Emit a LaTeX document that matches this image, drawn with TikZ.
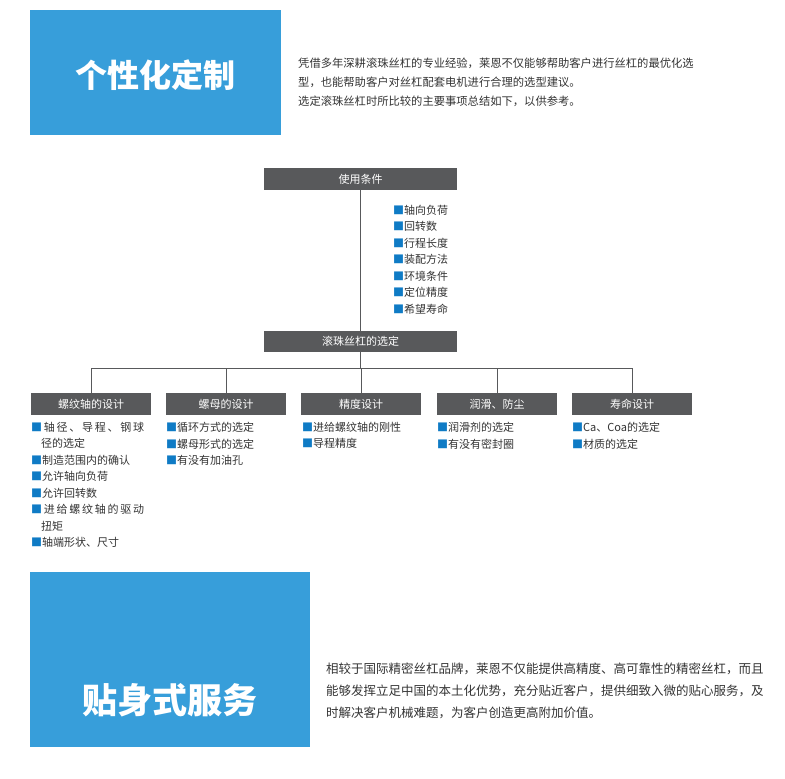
\documentclass[tikz,border=0pt]{standalone}
\usepackage{fontspec}
\setmainfont{Noto Sans CJK SC}
\usetikzlibrary{positioning}

\definecolor{cornblue}{HTML}{379EDA}
\definecolor{headgray}{HTML}{58595B}
\definecolor{bulblue}{HTML}{0F7BC5}
\definecolor{txtgray}{HTML}{333333}
\newcommand\bul{{\color{bulblue}■}}

\begin{document}
\begin{tikzpicture}[
  x=1pt, y=-1pt,
  banner/.style={
    fill=cornblue,
    inner sep=0
  },
  bannertext/.style={
    text=white,
    font=\fontsize{32}{36}\selectfont\bfseries,
    inner sep=0
  },
  para/.style={
    anchor=north west,
    inner sep=0,
    align=left,
    text=txtgray
  },
  stage/.style={
    fill=headgray,
    text=white,
    font=\fontsize{11}{13}\selectfont,
    minimum height=22pt,
    inner sep=0
  },
  items/.style={
    anchor=north west,
    inner sep=0,
    align=left,
    text=txtgray,
    font=\fontsize{11}{16.5}\selectfont
  },
  link/.style={
    draw=headgray,
    line width=0.8pt
  }
]
\useasboundingbox (0,0) rectangle (785,779);

% top banner
\node[banner, minimum width=251pt, minimum height=125pt] (custom) at (155.5,72.5) {};
\node[bannertext] (customtitle) at (155.5,75) {个性化定制};
\node[para, font=\fontsize{11.3}{19}\selectfont] (intro) at (298,57.8)
  {凭借多年深耕滚珠丝杠的专业经验，莱恩不仅能够帮助客户进行丝杠的最优化选\\
   型，也能帮助客户对丝杠配套电机进行合理的选型建议。\\
   选定滚珠丝杠时所比较的主要事项总结如下，以供参考。};

% selection tree
\node[stage, minimum width=193pt] (cond) at (360.5,179) {使用条件};
\node[items] (condlist) at (393,205)
  {\bul 轴向负荷\\ \bul 回转数\\ \bul 行程长度\\ \bul 装配方法\\
   \bul 环境条件\\ \bul 定位精度\\ \bul 希望寿命};
\node[stage, minimum width=193pt, minimum height=21pt] (sel) at (360.5,341.5) {滚珠丝杠的选定};

\node[stage, minimum width=120pt] (shaft) at (91,404) {螺纹轴的设计};
\node[stage, minimum width=120pt] (nut) at (226,404) {螺母的设计};
\node[stage, minimum width=120pt] (accu) at (361,404) {精度设计};
\node[stage, minimum width=120pt] (lube) at (497,404) {润滑、防尘};
\node[stage, minimum width=120pt] (life) at (632,404) {寿命设计};

\draw[link] (cond) -- (sel);
\foreach \d in {shaft,nut,accu,lube,life}
  \draw[link] (sel.south) -- ++(0,16) -| (\d.north);

\node[items] (shaftlist) at (31,422)
  {\makebox[113pt][s]{\bul\hfil 轴\hfil 径\hfil 、\hfil 导\hfil 程\hfil 、\hfil 钢\hfil 球}\\
   \hspace*{10pt}径的选定\\
   \bul 制造范围内的确认\\
   \bul 允许轴向负荷\\
   \bul 允许回转数\\
   \makebox[113pt][s]{\bul\hfil 进\hfil 给\hfil 螺\hfil 纹\hfil 轴\hfil 的\hfil 驱\hfil 动}\\
   \hspace*{10pt}扭矩\\
   \bul 轴端形状、尺寸};
\node[items] (nutlist) at (166,422)
  {\bul 循环方式的选定\\ \bul 螺母形式的选定\\ \bul 有没有加油孔};
\node[items] (acculist) at (302,422)
  {\bul 进给螺纹轴的刚性\\ \bul 导程精度};
\node[items] (lubelist) at (437,422)
  {\bul 润滑剂的选定\\ \bul 有没有密封圈};
\node[items] (lifelist) at (572,422)
  {\bul Ca、Coa的选定\\ \bul 材质的选定};

% bottom banner
\node[banner, minimum width=280pt, minimum height=175pt] (service) at (170,659.5) {};
\node[bannertext, font=\fontsize{35}{40}\selectfont\bfseries] (servicetitle) at (170,700) {贴身式服务};
\node[para, font=\fontsize{12.5}{22}\selectfont] (servicetext) at (326,662.4)
  {相较于国际精密丝杠品牌，莱恩不仅能提供高精度、高可靠性的精密丝杠，而且\\
   能够发挥立足中国的本土化优势，充分贴近客户，提供细致入微的贴心服务，及\\
   时解决客户机械难题，为客户创造更高附加价值。};
\end{tikzpicture}
\end{document}
